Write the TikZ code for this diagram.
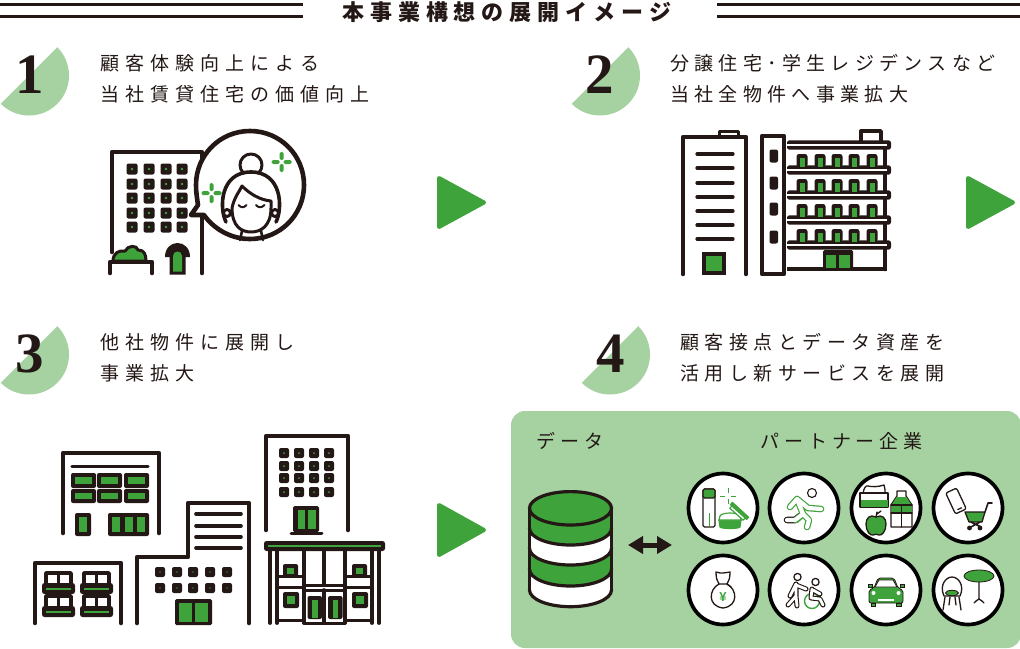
\documentclass[tikz,border=0pt]{standalone}
\usepackage{fontspec}
\usetikzlibrary{arrows.meta}
\newfontfamily\jp[LetterSpace=32]{Noto Sans CJK JP}
\newfontfamily\jpb[LetterSpace=29]{Noto Sans CJK JP}
\newfontfamily\jpc[LetterSpace=28]{Noto Sans CJK JP}
\newfontfamily\jpd[LetterSpace=26]{Noto Sans CJK JP}
\newfontfamily\jpt[LetterSpace=27]{Noto Sans CJK JP}
\newfontfamily\numf{Liberation Serif}
\newfontfamily\yenf{Liberation Sans}
\definecolor{ink}{HTML}{231815}
\definecolor{gr}{HTML}{3FA33B}
\definecolor{lg}{HTML}{A5D2A0}
\tikzset{
  ln/.style={draw=ink,line width=4.6pt,line cap=round,line join=round},
  thinl/.style={draw=ink,line width=3.2pt,line cap=round,line join=round},
  item/.style={anchor=west,inner sep=0pt,text=ink,font=\jp\fontsize{19}{19}\selectfont},
  itemb/.style={anchor=west,inner sep=0pt,text=ink,font=\jpb\fontsize{19}{19}\selectfont},
  itemc/.style={anchor=west,inner sep=0pt,text=ink,font=\jpc\fontsize{19}{19}\selectfont},
  itemd/.style={anchor=west,inner sep=0pt,text=ink,font=\jpd\fontsize{19}{19}\selectfont},
  ttl/.style={anchor=west,inner sep=0pt,text=ink,font=\jpt\bfseries\fontsize{22}{22}\selectfont},
  ring/.style={draw=black,line width=3.7pt,fill=white},
  tl/.style={draw=ink,line width=1.3pt,line cap=round,line join=round},
  tg/.style={draw=gr,line width=1.3pt,line cap=round,line join=round},
  tri/.style={fill=gr,draw=gr,line width=4pt,line join=round},
  rule/.style={draw=ink,line width=3pt},
  numeral/.style={inner sep=0pt,text=ink,font=\numf\bfseries\fontsize{57}{57}\selectfont}
}
\newcommand\badge[2]{%
  \begin{scope}
    \clip (#1-70,#2+70) -- (#1+70,#2-70) -- (#1+70,#2+70) -- cycle;
    \fill[lg] (#1,#2) circle[radius=40pt];
  \end{scope}
}
\newcommand\petals[2]{%
  \foreach \a in {-6,6}{\fill[gr,rounded corners=1.5pt] (#1+\a-4,#2-2) rectangle (#1+\a+4,#2+2);}
  \foreach \a in {-6,6}{\fill[gr,rounded corners=1.5pt] (#1-2,#2+\a-4) rectangle (#1+2,#2+\a+4);}
}
\newcommand\outl[2]{\draw[line width=6.6pt,color=#1,line cap=round,line join=round] #2;}
\newcommand\inl[1]{\draw[line width=4.2pt,white,line cap=round,line join=round] #1;}
\begin{document}
\begin{tikzpicture}[x=1pt,y=-1pt]
\useasboundingbox (0,0) rectangle (1020,648);
\fill[white] (0,0) rectangle (1020,648);
% header
\draw[rule] (0,4.5) -- (303,4.5);
\draw[rule] (0,16) -- (303,16);
\draw[rule] (717,4.5) -- (1020,4.5);
\draw[rule] (717,16) -- (1020,16);
\node[ttl] (title) at (342,12) {本事業構想の展開イメージ};
% badges
\badge{29}{75.5}
\node[numeral] (n1) at (30,75) {1};
\badge{600}{75.5}
\node[numeral] (n2) at (600,75) {2};
\badge{29}{354.5}
\node[numeral] (n3) at (30,354) {3};
\badge{610}{354.5}
\node[numeral] (n4) at (611,354) {4};
% texts
\node[item] (t1a) at (100,63) {顧客体験向上による};
\node[item] (t1b) at (100,94) {当社賃貸住宅の価値向上};
\node[itemc] (t2a) at (670,63) {分譲住宅･学生レジデンスなど};
\node[itemc] (t2b) at (670,94) {当社全物件へ事業拡大};
\node[item] (t3a) at (100,342) {他社物件に展開し};
\node[item] (t3b) at (100,373) {事業拡大};
\node[itemb] (t4a) at (680,342) {顧客接点とデータ資産を};
\node[itemb] (t4b) at (680,373) {活用し新サービスを展開};
% arrows
\path[tri] (439,178) -- (484,202.5) -- (439,227) -- cycle;
\path[tri] (968,178) -- (1013,202.5) -- (968,227) -- cycle;
\path[tri] (439,505) -- (484,530) -- (439,555) -- cycle;

% ---------- icon 1
\draw[ln] (112,252) -- (112,152) -- (202,152) -- (202,273);
\foreach \x in {132,149,166,182}{\foreach \y in {169,184,198,213,227}{
  \fill[ink,rounded corners=2pt] (\x-5.5,\y-5.5) rectangle (\x+5.5,\y+5.5);
  \fill[gr] (\x,\y) circle[radius=1.3pt];
}}
% planter and bush
\draw[ln,fill=gr,line width=3pt] (113,261) .. controls (113,253) and (119,250) .. (125,251) .. controls (128,245) and (137,245) .. (138,250) .. controls (144,250) and (146,254) .. (146,261) -- cycle;
\draw[ln] (110,273) -- (110,262) -- (152,262) -- (152,273);
% door
\fill[ink] (169.5,274.5) -- (169.5,257) -- (165,257) .. controls (165,248) and (171,243) .. (177.5,243) .. controls (184,243) and (190,248) .. (190,257) -- (185.5,257) -- (185.5,274.5) -- cycle;
\fill[gr] (173,271.5) -- (173,256) .. controls (173,250) and (182,250) .. (182,256) -- (182,271.5) -- cycle;
% bubble
\draw[ln,fill=white] (250,131) .. controls (280,131) and (304,155) .. (304,185) .. controls (304,215) and (280,239) .. (250,239) .. controls (230,239) and (213,228) .. (204,215) -- (191,215) -- (198,205) .. controls (197,198) and (196,192) .. (196,185) .. controls (196,155) and (220,131) .. (250,131) -- cycle;
% face
\draw[ln,line width=3pt,fill=white] (251,165) circle[radius=11pt];
\draw[ln,line width=3.6pt,fill=white] (226,222) .. controls (219,208) and (220,172) .. (251,172) .. controls (282,172) and (283,208) .. (276,222);
\draw[ln,line width=3pt,fill=white] (227,213) circle[radius=3.5pt];
\draw[ln,line width=3pt,fill=white] (275,213) circle[radius=3.5pt];
\draw[ln,line width=3pt,fill=white] (232,208) .. controls (232,226) and (241,232) .. (251,232) .. controls (261,232) and (271,226) .. (271,208) -- (271,201) .. controls (260,200) and (250,194) .. (242,186) .. controls (239,192) and (234,198) .. (232,208) -- cycle;
\draw[ln,line width=2.6pt] (242,231) -- (240,240);
\draw[ln,line width=2.6pt] (261,231) -- (263,240);
\draw[ln,line width=2pt] (238.5,205) .. controls (241,208) and (244,208) .. (246.5,205);
\draw[ln,line width=2pt] (256,205) .. controls (258.5,208) and (261.5,208) .. (264.5,205);
\petals{281.5}{162}
\petals{211.5}{193}

% ---------- icon 2
\draw[ln] (683,274) -- (683,137) -- (746,137) -- (746,274);
\draw[ln,line width=3pt] (719,137) -- (719,131.5) -- (738,131.5) -- (738,137);
\foreach \y in {154,168,183,197,211,225,239}{\draw[thinl] (697,\y) -- (733,\y);}
\draw[ln,fill=gr,line cap=butt,line join=miter] (704,254) rectangle (724,273);
\draw[ln,fill=white] (762,136) rectangle (784,274);
\foreach \y in {156,183,209,237}{\fill[ink,rounded corners=2pt] (769.5,\y-6.5) rectangle (778,\y+6.5);}
\draw[ln] (885,145) -- (885,269);
\draw[ln,line width=3.4pt,fill=white] (861,141) -- (861,131) -- (881,131) -- (881,141);
\foreach \y in {145,170,195,220,245}{
  \fill[ink,rounded corners=2.5pt] (787,\y-4.7) rectangle (891,\y+4.7);
  \fill[white] (787,\y-0.6) rectangle (887,\y+1.1);
}
\foreach \y in {154,179,204,229}{\foreach \x in {802,820,837,854,872}{
  \fill[ink,rounded corners=2.5pt] (\x-5.5,\y) rectangle (\x+5.5,\y+13);
  \fill[gr] (\x-2.5,\y+3.5) rectangle (\x+2.5,\y+13);
}}
\draw[ln,line cap=butt] (787,269) -- (887,269);
\fill[ink,rounded corners=1.5pt] (823,250) rectangle (853,270);
\fill[gr] (826,255) rectangle (836,268);
\fill[gr] (839,255) rectangle (849.5,268);

% ---------- icon 3 : building A
\draw[ln] (63,533) -- (63,453) -- (159,453) -- (159,533);
\draw[thinl] (72,466.5) -- (148,466.5);
\foreach \x/\xx in {71/96,97/122,124/149}{\foreach \y/\yy in {473/488,489/503}{
  \fill[ink,rounded corners=2pt] (\x,\y) rectangle (\xx,\yy);
  \fill[gr] (\x+4,\y+4) rectangle (\xx-4,\yy-4);
}}
\fill[ink,rounded corners=2pt] (75,513) rectangle (91,536);
\fill[gr] (79,517) rectangle (87,532);
\fill[ink,rounded corners=2pt] (108,513) rectangle (149,536);
\foreach \x in {112,124.5,137}{\fill[gr] (\x,517) rectangle (\x+8,532);}
% building B
\draw[ln] (35,623) -- (35,563) -- (121,563) -- (121,623);
\foreach \x in {42,80}{
  \foreach \y in {572,595}{
    \draw[ln,line width=3.8pt] (\x+4,\y+11) -- (\x+4,\y+1) -- (\x+29,\y+1) -- (\x+29,\y+11);
    \draw[ln,line width=3.6pt] (\x+16.5,\y+1) -- (\x+16.5,\y+11);
    \fill[ink,rounded corners=2.5pt] (\x,\y+11) rectangle (\x+33,\y+22);
    \fill[gr] (\x+4,\y+15.5) rectangle (\x+29,\y+18);
  }
}
% building C
\draw[ln] (137,623) -- (137,557) -- (188,557) -- (188,503) -- (249,503) -- (249,623);
\foreach \y in {514,526,537,548}{\draw[thinl,line width=3.6pt] (196,\y) -- (241,\y);}
\foreach \x in {160,177,193,210,227}{\foreach \y in {572,588}{
  \fill[ink,rounded corners=2pt] (\x-5,\y-5) rectangle (\x+5,\y+5);
  \fill[gr!70!ink] (\x,\y) circle[radius=.8pt];
}}
\fill[ink,rounded corners=1.5pt] (175,599) rectangle (212,625);
\fill[gr] (179,603) rectangle (192,622);
\fill[gr] (195,603) rectangle (208,622);

% ---------- icon 3 : tower + shop
\draw[ln] (266,530) -- (266,436) -- (348,436) -- (348,530);
\foreach \x in {284,299,314,329}{\foreach \y in {453,466,478,492}{
  \fill[ink,rounded corners=2pt] (\x-5,\y-5) rectangle (\x+5,\y+5);
  \fill[gr] (\x,\y) circle[radius=1pt];
}}
\fill[ink,rounded corners=1.5pt] (293,506) rectangle (319,532);
\fill[gr] (298,510) rectangle (305,529);
\fill[gr] (308,510) rectangle (315.5,529);
\draw[ln,line width=3pt] (291,533.5) -- (322,533.5);
\fill[ink,rounded corners=2.5pt] (264,541) rectangle (385,551);
\fill[gr] (268,544.5) rectangle (381,547);
% columns
\foreach \x in {270,277,372,379}{\draw[ln,line width=3.8pt] (\x,551) -- (\x,623);}
\foreach \x in {304,324,345}{\draw[ln,line width=3.6pt] (\x,551) -- (\x,584);}
\foreach \x in {304,345}{\draw[ln,line width=3.6pt] (\x,584) -- (\x,623);}
\foreach \a/\b in {277/304,345/372}{
  \draw[ln,line width=3pt] (\a,576.5) -- (\b,576.5);
  \draw[ln,line width=3pt] (\a,587) -- (\b,587);
  \draw[ln,line width=3pt] (\a,620) -- (\b,620);
}
\draw[ln,line width=3pt] (304,585) -- (345,585);
\draw[ln,line width=3pt] (304,590.5) -- (345,590.5);
\draw[ln,line width=3.6pt] (324,590) -- (324,622);
\draw[ln,line width=3.6pt] (304,623.5) -- (345,623.5);
\foreach \x in {283,352}{
  \fill[ink,rounded corners=2pt] (\x,564) rectangle (\x+15,577);
  \fill[gr] (\x+4,568) rectangle (\x+11,574);
  \fill[ink,rounded corners=2pt] (\x,592) rectangle (\x+16,608);
  \fill[gr] (\x+4,596) rectangle (\x+12,604);
}
\foreach \x in {307.5,328}{
  \fill[ink,rounded corners=2pt] (\x,596) rectangle (\x+14.5,619);
  \fill[gr] (\x+4.5,600) rectangle (\x+10,618);
}

% ---------- panel
\fill[lg,rounded corners=14pt] (511,411) rectangle (1021,648);
\node[itemd] (dlab) at (536,441) {データ};
\node[itemd] (plab) at (760,441) {パートナー企業};
% database
\foreach \yy/\c/\p in {590.0/white/569.3,569.3/gr/548.3,548.3/white/528.3,528.3/gr/508.3}{
  \draw[draw=ink,line width=3.2pt,fill=\c] (570.5,\yy) ellipse (41 and 16.7);
  \fill[\c] (529.5,\p) rectangle (611.5,\yy);
  \draw[ink,line width=3.2pt] (529.5,\p) -- (529.5,\yy) (611.5,\p) -- (611.5,\yy);
}
\draw[draw=ink,line width=3.2pt,fill=gr] (570.5,508.3) ellipse (41 and 16.7);
% double arrow
\coordinate (dbarrow) at (628,545);
\coordinate (ptarrow) at (672,545);
\draw[draw=ink,line width=5pt,{Triangle[length=15pt,width=17pt]}-{Triangle[length=15pt,width=17pt]}] (dbarrow) -- (ptarrow);
% rings
\foreach \x in {723,804,886,968}{\foreach \y in {508,590}{
  \draw[ring] (\x,\y) circle[radius=34.5pt];
}}
% C1 cosmetics
\draw[tl,fill=white,rounded corners=1.5pt] (703,489) rectangle (715,527);
\draw[tl,fill=gr,rounded corners=1.5pt] (703,489) rectangle (715,498);
\draw[draw=gr,line width=1pt] (709,513) -- (709,526);
\draw[draw=gr,line width=.9pt] (728,488) -- (728,493) (728,499) -- (728,504) (720,496) -- (725,496) (731,496) -- (736,496);
\draw[draw=gr,line width=1.2pt,fill=gr] (719,520) -- (741,520) -- (740,527) .. controls (738,529) and (722,529) .. (720,527) -- cycle;
\draw[draw=gr,line width=1.2pt,fill=white] (720,516) .. controls (722,512) and (738,512) .. (740,516) -- (741,520) -- (719,520) -- cycle;
\draw[draw=gr,line width=1.2pt,fill=gr,line join=round] (730.4,504.6) -- (746.6,519.4) -- (748.6,517.2) -- (732.4,502.4) -- cycle;
\draw[draw=gr,line width=1.2pt,fill=white,line join=round] (731.8,506) -- (745.2,518) -- (743.2,520.2) -- (729.8,508.2) -- cycle;
% C2 runner
\fill[white,draw=ink,line width=1.1pt] (812,493) circle[radius=4.5pt];
\outl{ink}{(787,520) -- (795,520) -- (800,516)}
\outl{gr}{(790,507) -- (797,499) -- (808,508) -- (821,509) (797,499) -- (803,514) -- (809,520) -- (807,527) (803,514) -- (796,520)}
\inl{(787,520) -- (795,520) -- (803,514) (790,507) -- (797,499) -- (808,508) -- (821,509) (797,499) -- (803,514) -- (809,520) -- (807,527)}
% C3 groceries
\draw[tl,fill=white] (863,493) .. controls (864,488) and (866,485) .. (868,486) .. controls (872,487) and (878,487) .. (884,485) .. controls (885,488) and (885,490) .. (885,493) -- cycle;
\draw[tl,fill=white] (860,493) rectangle (888,507);
\fill[gr] (860.5,500) rectangle (887.5,506.5);
\draw[tl,fill=white] (891,505) -- (897,496) -- (897,491) -- (906,491) -- (906,496) -- (912,505) -- (912,527) -- (891,527) -- cycle;
\fill[gr] (891.5,505) -- (896.5,497) -- (906.5,497) -- (911.5,505) -- (911.5,513) -- (891.5,513) -- cycle;
\draw[tl] (891,513) -- (912,513) (901.5,505) -- (901.5,527) (891,505) -- (912,505);
\draw[tl,fill=gr] (876,517) .. controls (882,514) and (886,518) .. (886,524) .. controls (886,531) and (882,536) .. (879,535) .. controls (877,534) and (875,534) .. (873,535) .. controls (870,536) and (866,531) .. (866,524) .. controls (866,518) and (870,514) .. (876,517) -- cycle;
\draw[tl] (876,517) -- (877,512) (877,514) -- (881,511);
% C4 phone + cart
\begin{scope}[shift={(956,501)},rotate=25]
  \draw[tl,fill=white,rounded corners=2pt] (-6,-11.5) rectangle (6,11.5);
  \draw[tl] (-2,8.5) -- (2,8.5);
\end{scope}
\draw[tl,fill=gr] (965,512) -- (985,512) -- (982,522) -- (969,522) -- cycle;
\draw[tl,line width=1.6pt] (985,512) -- (988,503) -- (992,503);
\draw[tl,line width=1.6pt] (971,522) -- (981,527) (980,522) -- (971,527);
\fill[ink] (969.5,528) circle[radius=2.4pt] (980,528) circle[radius=2.4pt];
% C5 money bag
\draw[tl,fill=white] (719,584) .. controls (709,589) and (707,606) .. (723,608) .. controls (739,606) and (737,589) .. (727,584) -- cycle;
\draw[tl] (719,584) .. controls (717,581) and (716,578) .. (716,572) .. controls (719,574) and (720,572) .. (723,573) .. controls (726,572) and (728,573) .. (730,572) .. controls (730,578) and (729,581) .. (727,584);
\draw[tl] (727,584) -- (731,587);
\node[inner sep=0pt,text=gr,font=\yenf\bfseries\fontsize{13}{13}\selectfont] (yen) at (723,597) {¥};
% C6 caregiver
\draw[tg,line width=1.4pt] (812,601) circle[radius=7.5pt];
\draw[tl,fill=white] (797.5,577) circle[radius=3.6pt];
\draw[tl,fill=white] (815.5,582) circle[radius=3.6pt];
\draw[line width=5pt,ink,line cap=round,line join=round] (796,584) -- (790,596) (796,584) -- (796,596) -- (788,605) (796,596) -- (797,606) (796,585) -- (806,589);
\draw[line width=2.8pt,white,line cap=round,line join=round] (796,584) -- (790,596) (796,584) -- (796,596) -- (788,605) (796,596) -- (797,606) (796,585) -- (806,589);
\draw[line width=5pt,ink,line cap=round,line join=round] (812,589) -- (811,598) -- (820,599) -- (823,605) (813,590) -- (820,594);
\draw[line width=2.8pt,white,line cap=round,line join=round] (812,589) -- (811,598) -- (820,599) -- (823,605) (813,590) -- (820,594);
% C7 car
\fill[gr,draw=ink,line width=.8pt,rounded corners=2pt] (869,603) -- (869,590) -- (874,588) -- (878,578) -- (894,578) -- (898,588) -- (903,590) -- (903,603) -- cycle;
\fill[white,draw=ink,line width=.8pt] (875,587) -- (879,580) -- (893,580) -- (897,587) -- cycle;
\fill[gr,draw=ink,line width=.8pt] (868,584) rectangle (872,587) (900,584) rectangle (904,587);
\fill[white] (873.5,593) circle[radius=2pt] (898.5,593) circle[radius=2pt];
\fill[white] (878,599) rectangle (894,600.6);
\fill[gr,draw=ink,line width=.8pt] (871,603) rectangle (875.5,606.5) (896.5,603) rectangle (901,606.5);
% C8 chair and table
\fill[gr,draw=ink,line width=.8pt] (979,576) ellipse (15 and 6);
\draw[tl] (979,582) -- (979,599) (974,603) .. controls (976,601) and (977,600) .. (979,599) .. controls (981,600) and (982,601) .. (984,603);
\draw[tl,fill=white] (944,596) .. controls (939,585) and (946,577) .. (952,577) .. controls (958,577) and (965,585) .. (960,596) -- cycle;
\fill[gr,draw=ink,line width=.8pt] (952,593) ellipse (6.5 and 2.7);
\draw[tl] (945,597) -- (943,610) (959,597) -- (961,610) (950,597) -- (949,605) (955,597) -- (956,605);
\end{tikzpicture}
\end{document}
